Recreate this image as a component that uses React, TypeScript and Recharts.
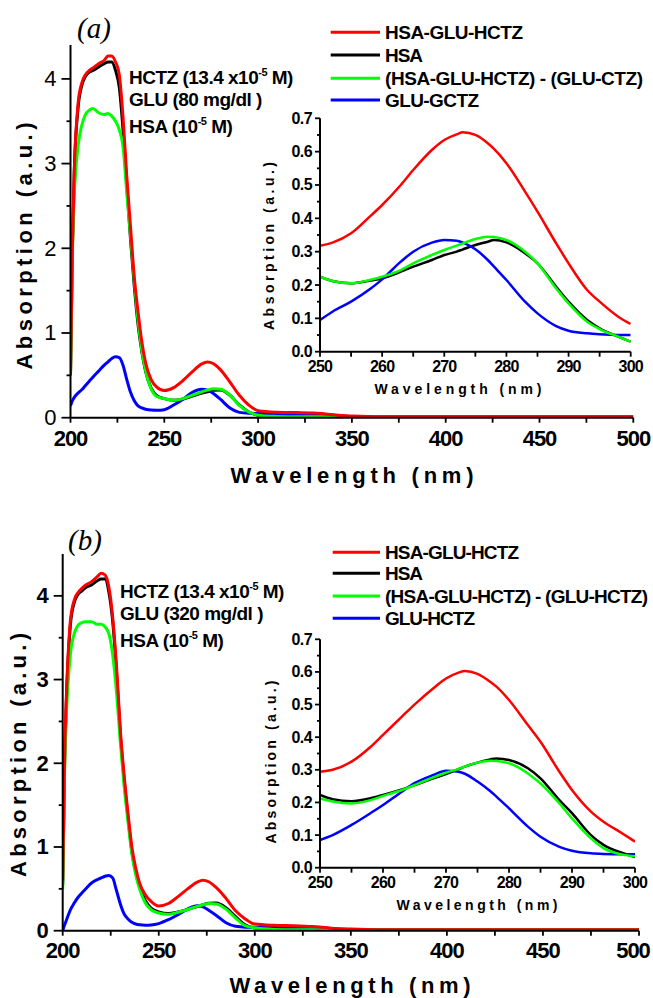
import React from "react";
import { LineChart, Line, XAxis, YAxis } from "recharts";

const FONT = "'Liberation Sans', Arial, Helvetica, sans-serif";

// ---- full spectra 200-500 nm ----
const mainWl = [
  200, 201, 202, 204, 206, 208, 210, 212, 215, 218, 220, 222, 224, 226, 228, 230, 232, 234, 236, 238,
  240, 243, 246, 250, 255, 260, 265, 270, 273, 276, 280, 285, 290, 295, 300, 310, 320, 330, 340, 350,
  375, 400, 450, 500,
];

// panel (a): GLU 80 mg/dl
const redA = [
  0.5, 2.0, 2.9, 3.7, 3.95, 4.05, 4.1, 4.13, 4.18, 4.22, 4.27, 4.27, 4.2, 4.05, 3.55, 2.85, 2.25, 1.66, 1.25, 0.9,
  0.65, 0.45, 0.36, 0.32, 0.355, 0.44, 0.545, 0.635, 0.658, 0.64, 0.565, 0.42, 0.265, 0.15, 0.083, 0.065, 0.06, 0.055, 0.035, 0.02,
  0.01, 0.01, 0.01, 0.01,
];
const blackA = [
  0.5, 2.0, 2.9, 3.65, 3.92, 4.03, 4.08, 4.1, 4.14, 4.18, 4.2, 4.2, 4.1, 3.9, 3.4, 2.75, 2.1, 1.55, 1.1, 0.78,
  0.55, 0.35, 0.26, 0.225, 0.205, 0.22, 0.255, 0.29, 0.307, 0.325, 0.328, 0.265, 0.15, 0.07, 0.03, 0.02, 0.015, 0.012, 0.01, 0.01,
  0.01, 0.01, 0.01, 0.01,
];
const greenA = [
  0.5, 1.9, 2.6, 3.2, 3.45, 3.58, 3.63, 3.65, 3.6, 3.58, 3.59, 3.56, 3.5, 3.4, 3.2, 2.65, 2.15, 1.62, 1.15, 0.8,
  0.56, 0.34, 0.25, 0.225, 0.205, 0.225, 0.265, 0.305, 0.325, 0.342, 0.335, 0.265, 0.145, 0.068, 0.03, 0.015, 0.01, 0.01, 0.01, 0.01,
  0.01, 0.01, 0.01, 0.01,
];
const blueA = [
  0.14, 0.2, 0.24, 0.29, 0.33, 0.38, 0.43, 0.48, 0.55, 0.62, 0.66, 0.7, 0.72, 0.71, 0.62, 0.45, 0.3, 0.2, 0.14, 0.115,
  0.1, 0.09, 0.088, 0.095, 0.15, 0.217, 0.3, 0.335, 0.325, 0.29, 0.215, 0.115, 0.063, 0.052, 0.05, 0.05, 0.05, 0.045, 0.03, 0.015,
  0.01, 0.01, 0.01, 0.01,
];

// panel (b): GLU 320 mg/dl
const redB = [
  0.6, 2.1, 2.85, 3.7, 3.95, 4.04, 4.09, 4.13, 4.17, 4.23, 4.27, 4.25, 4.11, 3.75, 3.16, 2.4, 1.85, 1.4, 1.0, 0.75,
  0.57, 0.43, 0.35, 0.294, 0.325, 0.407, 0.5, 0.58, 0.603, 0.585, 0.514, 0.386, 0.238, 0.141, 0.08, 0.065, 0.06, 0.05, 0.03, 0.02,
  0.01, 0.01, 0.01, 0.01,
];
const blackB = [
  0.55, 2.0, 2.8, 3.65, 3.92, 4.02, 4.06, 4.1, 4.13, 4.18, 4.2, 4.2, 4.05, 3.7, 3.1, 2.35, 1.8, 1.35, 0.95, 0.7,
  0.52, 0.36, 0.27, 0.223, 0.204, 0.223, 0.253, 0.287, 0.31, 0.327, 0.33, 0.274, 0.167, 0.07, 0.033, 0.02, 0.015, 0.012, 0.01, 0.01,
  0.01, 0.01, 0.01, 0.01,
];
const greenB = [
  0.5, 1.9, 2.6, 3.3, 3.55, 3.65, 3.68, 3.69, 3.69, 3.66, 3.66, 3.63, 3.55, 3.3, 2.85, 2.25, 1.72, 1.3, 0.92, 0.67,
  0.5, 0.33, 0.25, 0.212, 0.197, 0.22, 0.253, 0.291, 0.31, 0.326, 0.32, 0.258, 0.151, 0.06, 0.035, 0.015, 0.01, 0.01, 0.01, 0.01,
  0.01, 0.01, 0.01, 0.01,
];
const blueB = [
  0.0, 0.07, 0.13, 0.25, 0.33, 0.4, 0.45, 0.5, 0.57, 0.61, 0.63, 0.65, 0.66, 0.63, 0.48, 0.32, 0.2, 0.14, 0.1, 0.08,
  0.07, 0.065, 0.068, 0.085, 0.131, 0.192, 0.259, 0.297, 0.285, 0.245, 0.182, 0.095, 0.052, 0.042, 0.041, 0.04, 0.04, 0.035, 0.025, 0.015,
  0.01, 0.01, 0.01, 0.01,
];

// ---- insets 250-300 nm ----
const insetWl = [250, 252, 255, 258, 260, 263, 265, 268, 270, 272, 273, 275, 277, 278, 280, 283, 285, 288, 290, 293, 295, 298, 300];

const insetRedA = [0.318, 0.327, 0.355, 0.405, 0.44, 0.5, 0.545, 0.605, 0.635, 0.652, 0.658, 0.65, 0.625, 0.608, 0.565, 0.48, 0.42, 0.325, 0.265, 0.185, 0.15, 0.105, 0.083];
const insetBlackA = [0.225, 0.212, 0.205, 0.213, 0.22, 0.24, 0.255, 0.275, 0.29, 0.3, 0.307, 0.32, 0.33, 0.335, 0.328, 0.295, 0.265, 0.195, 0.15, 0.095, 0.07, 0.045, 0.03];
const insetGreenA = [0.225, 0.212, 0.205, 0.215, 0.225, 0.245, 0.265, 0.29, 0.305, 0.318, 0.325, 0.338, 0.345, 0.344, 0.335, 0.3, 0.265, 0.19, 0.145, 0.09, 0.068, 0.045, 0.03];
const insetBlueA = [0.095, 0.12, 0.15, 0.187, 0.217, 0.27, 0.3, 0.327, 0.335, 0.333, 0.327, 0.307, 0.275, 0.255, 0.215, 0.15, 0.115, 0.077, 0.063, 0.055, 0.052, 0.05, 0.05];

const insetRedB = [0.294, 0.3, 0.325, 0.37, 0.407, 0.463, 0.5, 0.55, 0.58, 0.598, 0.603, 0.594, 0.57, 0.555, 0.514, 0.437, 0.386, 0.294, 0.238, 0.172, 0.141, 0.105, 0.08];
const insetBlackB = [0.223, 0.21, 0.204, 0.213, 0.223, 0.24, 0.253, 0.274, 0.287, 0.302, 0.31, 0.322, 0.332, 0.335, 0.33, 0.305, 0.274, 0.207, 0.167, 0.1, 0.07, 0.045, 0.033];
const insetGreenB = [0.212, 0.203, 0.197, 0.207, 0.22, 0.238, 0.253, 0.277, 0.291, 0.303, 0.31, 0.322, 0.328, 0.327, 0.32, 0.289, 0.258, 0.197, 0.151, 0.09, 0.06, 0.04, 0.035];
const insetBlueB = [0.085, 0.1, 0.131, 0.167, 0.192, 0.233, 0.259, 0.284, 0.297, 0.294, 0.288, 0.264, 0.235, 0.218, 0.182, 0.126, 0.095, 0.064, 0.052, 0.044, 0.042, 0.041, 0.041];

// ---- ticks / labels ----
const mainXTicks = [200, 225, 250, 275, 300, 325, 350, 375, 400, 425, 450, 475, 500];
const mainYTicks = [0, 0.5, 1, 1.5, 2, 2.5, 3, 3.5, 4];
const insetXTicks = [250, 255, 260, 265, 270, 275, 280, 285, 290, 295, 300];
const insetYTicks = [0, 0.05, 0.1, 0.15, 0.2, 0.25, 0.3, 0.35, 0.4, 0.45, 0.5, 0.55, 0.6, 0.65, 0.7];

const legendA = ["HSA-GLU-HCTZ", "HSA", "(HSA-GLU-HCTZ) - (GLU-CTZ)", "GLU-GCTZ"];
const legendB = ["HSA-GLU-HCTZ", "HSA", "(HSA-GLU-HCTZ) - (GLU-HCTZ)", "GLU-HCTZ"];
const legendColors = ["#ff0000", "#000000", "#00ff00", "#0000ff"];

// draw order: black, blue, green, red on top
const drawOrder = [
  { key: "black", color: "#000000" },
  { key: "blue", color: "#0000ff" },
  { key: "green", color: "#00ff00" },
  { key: "red", color: "#ff0000" },
];

const AXIS_W = 30; // space the y axis reserves (taken out of the margin)
const AXIS_H = 30; // same for the x axis

const rows = (wl: number[], red: number[], black: number[], green: number[], blue: number[]) =>
  wl.map((w, i) => ({ wl: w, red: red[i], black: black[i], green: green[i], blue: blue[i] }));

const isMultiple = (v: number, every: number) => Math.abs(v / every - Math.round(v / every)) < 1e-6;

function makeXTick(o: { len: number; every: number; gap: number; size: number; weight: number; spacing: number; lastShift?: number }) {
  return (p: any) => {
    const v = p.payload.value;
    const isLast = p.index === (p.visibleTicksCount ?? 0) - 1 || v === 500;
    const dx = isLast && o.lastShift ? -o.lastShift : 0;
    return (
      <g>
        <line x1={p.x} x2={p.x} y1={p.y} y2={p.y + o.len} stroke="#000" strokeWidth={1.8} />
        {isMultiple(v, o.every) && (
          <text
            x={p.x + dx}
            y={p.y + o.gap}
            textAnchor="middle"
            dominantBaseline="central"
            fontFamily={FONT}
            fontSize={o.size}
            fontWeight={o.weight}
            letterSpacing={o.spacing}
            fill="#000"
          >
            {v}
          </text>
        )}
      </g>
    );
  };
}

function makeYTick(o: { major: number; minor: number; every: number; gap: number; size: number; weight: number; spacing: number; digits: number }) {
  return (p: any) => {
    const v = p.payload.value;
    const major = isMultiple(v, o.every);
    const len = major ? o.major : o.minor;
    return (
      <g>
        <line x1={p.x - len} x2={p.x} y1={p.y} y2={p.y} stroke="#000" strokeWidth={1.8} />
        {major && (
          <text
            x={p.x - o.major - o.gap}
            y={p.y}
            textAnchor="end"
            dominantBaseline="central"
            fontFamily={FONT}
            fontSize={o.size}
            fontWeight={o.weight}
            letterSpacing={o.spacing}
            fill="#000"
          >
            {v.toFixed(o.digits)}
          </text>
        )}
      </g>
    );
  };
}

type Box = { left: number; top: number; width: number; height: number };
type Plot = { x0: number; x1: number; y0: number; y1: number };

function Spectrum(props: {
  box: Box;
  plot: Plot;
  data: any[];
  xDomain: [number, number];
  yDomain: [number, number];
  xTicks: number[];
  yTicks: number[];
  xTick: any;
  yTick: any;
  stroke: number;
}) {
  const { box, plot } = props;
  const margin = {
    left: plot.x0 - box.left - AXIS_W,
    right: box.left + box.width - plot.x1,
    top: plot.y0 - box.top,
    bottom: box.top + box.height - plot.y1 - AXIS_H,
  };
  return (
    <div style={{ position: "absolute", left: box.left, top: box.top, width: box.width, height: box.height }}>
      <LineChart width={box.width} height={box.height} data={props.data} margin={margin} style={{ overflow: "visible" }}>
        <XAxis
          dataKey="wl"
          type="number"
          domain={props.xDomain}
          ticks={props.xTicks}
          interval={0}
          height={AXIS_H}
          tickSize={0}
          tickMargin={0}
          tickLine={false}
          tick={props.xTick}
          axisLine={{ stroke: "#000", strokeWidth: 2 }}
          allowDataOverflow
        />
        <YAxis
          type="number"
          domain={props.yDomain}
          ticks={props.yTicks}
          interval={0}
          width={AXIS_W}
          tickSize={0}
          tickMargin={0}
          tickLine={false}
          tick={props.yTick}
          axisLine={{ stroke: "#000", strokeWidth: 2 }}
          allowDataOverflow
        />
        {drawOrder.map((s) => (
          <Line
            key={s.key}
            type="monotone"
            dataKey={s.key}
            stroke={s.color}
            strokeWidth={props.stroke}
            dot={false}
            activeDot={false}
            isAnimationActive={false}
          />
        ))}
      </LineChart>
    </div>
  );
}

const mainXTickA = makeXTick({ len: 5, every: 50, gap: 21, size: 22, weight: 700, spacing: -1 });
const mainXTickB = makeXTick({ len: 5, every: 50, gap: 20, size: 22, weight: 700, spacing: -1, lastShift: 6 });
const mainYTickA = makeYTick({ major: 9, minor: 4, every: 1, gap: 5, size: 22, weight: 400, spacing: 0, digits: 0 });
const mainYTickB = makeYTick({ major: 9, minor: 4, every: 1, gap: 5, size: 22, weight: 700, spacing: 0, digits: 0 });
const insetXTick = makeXTick({ len: 5, every: 10, gap: 14.5, size: 16, weight: 700, spacing: -0.8 });
const insetYTick = makeYTick({ major: 5, minor: 3, every: 0.1, gap: 3, size: 16, weight: 700, spacing: -0.6, digits: 1 });

function Txt(p: { x: number; y: number; size: number; len?: number; anchor?: string; rotate?: boolean; weight?: number; children: any }) {
  return (
    <text
      x={p.x}
      y={p.y}
      fontSize={p.size}
      fontWeight={p.weight ?? 700}
      fontFamily={FONT}
      textAnchor={p.anchor ?? "start"}
      textLength={p.len}
      lengthAdjust="spacing"
      transform={p.rotate ? `rotate(-90 ${p.x} ${p.y})` : undefined}
      fill="#000"
    >
      {p.children}
    </text>
  );
}

function Legend(p: { names: string[]; x0: number; x1: number; ys: number[]; lens: number[] }) {
  return (
    <g>
      {p.names.map((n, i) => (
        <g key={n}>
          <line x1={p.x0} x2={p.x1} y1={p.ys[i]} y2={p.ys[i]} stroke={legendColors[i]} strokeWidth={3} />
          <Txt x={385} y={p.ys[i] + 7} size={19} len={p.lens[i]}>
            {n}
          </Txt>
        </g>
      ))}
    </g>
  );
}

function Note(p: { x: number; ys: number[]; glu: string }) {
  const t = { fontFamily: FONT, fontWeight: 700, fontSize: 19, letterSpacing: -0.5, fill: "#000" } as const;
  return (
    <g>
      <text x={p.x} y={p.ys[0]} {...t}>
        HCTZ (13.4 x10
        <tspan dy={-8} fontSize={11}>
          -5
        </tspan>
        <tspan dy={8}> M)</tspan>
      </text>
      <text x={p.x} y={p.ys[1]} {...t}>
        {`GLU (${p.glu} mg/dl )`}
      </text>
      <text x={p.x} y={p.ys[2]} {...t}>
        HSA (10
        <tspan dy={-8} fontSize={11}>
          -5
        </tspan>
        <tspan dy={8}> M)</tspan>
      </text>
    </g>
  );
}

export default function App() {
  const dataA = rows(mainWl, redA, blackA, greenA, blueA);
  const dataB = rows(mainWl, redB, blackB, greenB, blueB);
  const insetA = rows(insetWl, insetRedA, insetBlackA, insetGreenA, insetBlueA);
  const insetB = rows(insetWl, insetRedB, insetBlackB, insetGreenB, insetBlueB);

  return (
    <div style={{ position: "absolute", left: 0, top: 0, width: 653, height: 998, background: "#fff", overflow: "hidden" }}>
      <Spectrum
        box={{ left: 0, top: 0, width: 653, height: 499 }}
        plot={{ x0: 70.5, x1: 633.3, y0: 45, y1: 417.7 }}
        data={dataA}
        xDomain={[200, 500]}
        yDomain={[0, 4.4]}
        xTicks={mainXTicks}
        yTicks={mainYTicks}
        xTick={mainXTickA}
        yTick={mainYTickA}
        stroke={3}
      />
      <Spectrum
        box={{ left: 260, top: 100, width: 393, height: 290 }}
        plot={{ x0: 320, x1: 630.7, y0: 118.3, y1: 351.7 }}
        data={insetA}
        xDomain={[250, 300]}
        yDomain={[0, 0.7]}
        xTicks={insetXTicks}
        yTicks={insetYTicks}
        xTick={insetXTick}
        yTick={insetYTick}
        stroke={2.5}
      />
      <Spectrum
        box={{ left: 0, top: 499, width: 653, height: 499 }}
        plot={{ x0: 62.7, x1: 639, y0: 554, y1: 930.7 }}
        data={dataB}
        xDomain={[200, 500]}
        yDomain={[0, 4.5]}
        xTicks={mainXTicks}
        yTicks={mainYTicks}
        xTick={mainXTickB}
        yTick={mainYTickB}
        stroke={3}
      />
      <Spectrum
        box={{ left: 260, top: 620, width: 393, height: 290 }}
        plot={{ x0: 320, x1: 635, y0: 639.3, y1: 867.7 }}
        data={insetB}
        xDomain={[250, 300]}
        yDomain={[0, 0.7]}
        xTicks={insetXTicks}
        yTicks={insetYTicks}
        xTick={insetXTick}
        yTick={insetYTick}
        stroke={2.5}
      />

      <svg width={653} height={998} style={{ position: "absolute", left: 0, top: 0, pointerEvents: "none" }}>
        {/* panel (a) */}
        <text x={77} y={38} fontFamily="'Liberation Serif', 'DejaVu Serif', serif" fontStyle="italic" fontSize={29}>
          (a)
        </text>
        <Note x={129} ys={[84, 106, 133]} glu="80" />
        <Legend names={legendA} x0={330.7} x1={380} ys={[32.3, 55, 78.3, 100]} lens={[138, 38, 258, 94]} />
        <Txt x={352} y={483} size={22} len={243} anchor="middle">
          Wavelength (nm)
        </Txt>
        <Txt x={32} y={246} size={22} len={247} anchor="middle" rotate>
          Absorption (a.u.)
        </Txt>
        <Txt x={458} y={394} size={14} len={167} anchor="middle">
          Wavelength (nm)
        </Txt>
        <Txt x={274} y={246} size={14} len={168} anchor="middle" rotate>
          Absorption (a.u.)
        </Txt>

        {/* panel (b) */}
        <text x={68} y={550} fontFamily="'Liberation Serif', 'DejaVu Serif', serif" fontStyle="italic" fontSize={29}>
          (b)
        </text>
        <Note x={120} ys={[598, 620, 647]} glu="320" />
        <Legend names={legendB} x0={332.7} x1={380} ys={[552.3, 573.3, 596, 618.3]} lens={[134, 38, 263, 90]} />
        <Txt x={350} y={993} size={22} len={241} anchor="middle">
          Wavelength (nm)
        </Txt>
        <Txt x={26} y={755} size={22} len={244} anchor="middle" rotate>
          Absorption (a.u.)
        </Txt>
        <Txt x={477} y={910} size={14} len={161} anchor="middle">
          Wavelength (nm)
        </Txt>
        <Txt x={276} y={762} size={14} len={163} anchor="middle" rotate>
          Absorption (a.u.)
        </Txt>
      </svg>
    </div>
  );
}
